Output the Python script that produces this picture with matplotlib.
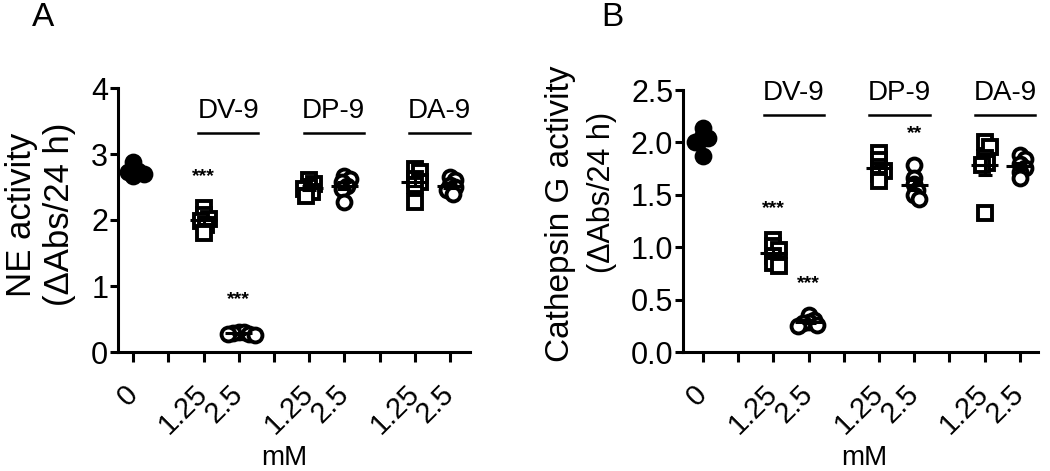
import numpy as np
import matplotlib.pyplot as plt

plt.rcParams['font.family'] = ['Liberation Sans', 'DejaVu Sans']

# x categories (slot 1, 4 and 7 are empty gaps between groups)
posiciones = [0, 2, 3, 5, 6, 8, 9]
etiquetas_x = ["0", "1.25", "2.5", "1.25", "2.5", "1.25", "2.5"]
grupos = ["DV-9", "DP-9", "DA-9"]
centros_grupo = [2.5, 5.5, 8.5]

# NE activity (panel A)
ne = [
    [2.88, 2.77, 2.74, 2.72, 2.70, 2.67],
    [2.18, 2.07, 2.02, 1.98, 1.93, 1.80],
    [0.31, 0.30, 0.29, 0.28, 0.27, 0.26],
    [2.60, 2.55, 2.50, 2.47, 2.42, 2.36],
    [2.66, 2.62, 2.58, 2.52, 2.47, 2.27],
    [2.78, 2.72, 2.62, 2.57, 2.53, 2.28],
    [2.65, 2.60, 2.53, 2.50, 2.45, 2.40],
]
ne_estrellas = ["", "***", "***", "", "", "", ""]

# Cathepsin G activity (panel B)
catg = [
    [2.14, 2.07, 2.04, 2.02, 2.00, 1.87],
    [1.07, 1.01, 0.97, 0.92, 0.85, 0.82],
    [0.35, 0.31, 0.29, 0.28, 0.26, 0.25],
    [1.90, 1.83, 1.77, 1.73, 1.70, 1.63],
    [1.78, 1.66, 1.60, 1.55, 1.50, 1.46],
    [2.00, 1.96, 1.85, 1.80, 1.78, 1.33],
    [1.88, 1.84, 1.79, 1.76, 1.72, 1.66],
]
catg_estrellas = ["", "***", "***", "", "**", "", ""]

marcadores = ['o', 's', 'o', 's', 'o', 's', 'o']
rellenos = ['black', 'white', 'white', 'white', 'white', 'white', 'white']


def enjambre(valores, dx, dy):
    # simple beeswarm: each point as close to the centre as possible
    colocados = []
    offs = []
    for v in valores:
        k = 0
        while True:
            cands = [0.0] if k == 0 else [k * dx * 0.5, -k * dx * 0.5]
            ok = None
            for c in cands:
                if all(((c - ox) / dx) ** 2 + ((v - oy) / dy) ** 2 >= 1 for ox, oy in colocados):
                    ok = c
                    break
            if ok is not None:
                break
            k += 1
        colocados.append((ok, v))
        offs.append(ok)
    return offs


def panel(ax, datos, estrellas, ymax, paso, fmt, dy, linea_y, texto_y, desp, xmin, xmax):
    for p, vals, m, fc, est in zip(posiciones, datos, marcadores, rellenos, estrellas):
        vals = np.array(vals)
        offs = enjambre(vals, 0.15, dy)
        ax.plot(p + np.array(offs), vals, linestyle='none', marker=m, ms=10,
                mfc=fc, mec='black', mew=2.8, clip_on=False, zorder=2)
        media = vals.mean()
        sem = vals.std(ddof=1) / np.sqrt(len(vals))
        ax.hlines(media, p - 0.38, p + 0.38, colors='black', lw=2.2, zorder=3)
        ax.errorbar(p, media, yerr=sem, fmt='none', ecolor='black', elinewidth=2.2,
                    capsize=5, capthick=2.2, zorder=3)
        if est:
            ax.text(p, vals.max() + 0.12 * ymax, est, ha='center', va='center',
                    fontsize=14, fontweight='bold')

    for g, c in zip(grupos, centros_grupo):
        ax.plot([c + desp - 0.86, c + desp + 0.86], [linea_y, linea_y], color='black',
                lw=1.8, clip_on=False)
        ax.text(c + desp, texto_y, g, ha='center', va='center', fontsize=20, clip_on=False)

    ax.set_xlim(xmin, xmax)
    ax.set_ylim(0, ymax)
    ax.set_xticks(range(10))
    etiq = [""] * 10
    for p, e in zip(posiciones, etiquetas_x):
        etiq[p] = e
    ax.set_xticklabels(etiq, rotation=45, ha='right', va='center', rotation_mode='anchor',
                       fontsize=21)
    ax.set_yticks(np.arange(0, ymax + 0.001, paso))
    ax.set_yticklabels([fmt.format(v) for v in np.arange(0, ymax + 0.001, paso)], fontsize=22)
    ax.spines['top'].set_visible(False)
    ax.spines['right'].set_visible(False)
    ax.spines['left'].set_linewidth(2.2)
    ax.spines['bottom'].set_linewidth(2.2)
    ax.tick_params(axis='x', length=7, width=2.2, pad=20)
    ax.tick_params(axis='y', length=6, width=2.2, pad=1)


fig = plt.figure(figsize=(10.5, 4.71), dpi=100)
axA = fig.add_axes([118 / 1050, 1 - 352 / 471, 352 / 1050, 264 / 471])
axB = fig.add_axes([683 / 1050, 1 - 352 / 471, 355 / 1050, 262 / 471])

panel(axA, ne, ne_estrellas, 4, 1, "{:.0f}", 0.09, 3.32, 3.65, 0.2, -0.43, 9.57)
panel(axB, catg, catg_estrellas, 2.5, 0.5, "{:.1f}", 0.055, 2.26, 2.47, 0.08, -0.57, 9.52)


def fig_txt(x, y, s, **kw):
    fig.text(x / 1050, 1 - y / 471, s, ha='center', va='center', **kw)


fig_txt(21, 215, "NE activity", rotation=90, fontsize=25)
fig_txt(60, 214, "(\u0394Abs/24 h)", rotation=90, fontsize=25)
fig_txt(561, 214, "Cathepsin G activity", rotation=90, fontsize=24)
fig_txt(602, 192, "(\u0394Abs/24 h)", rotation=90, fontsize=22)

fig_txt(284, 458, "mM", fontsize=20)
fig_txt(864, 458, "mM", fontsize=20)
fig_txt(43, 17, "A", fontsize=24)
fig_txt(612, 17, "B", fontsize=24)

plt.savefig("out.png", dpi=100)
